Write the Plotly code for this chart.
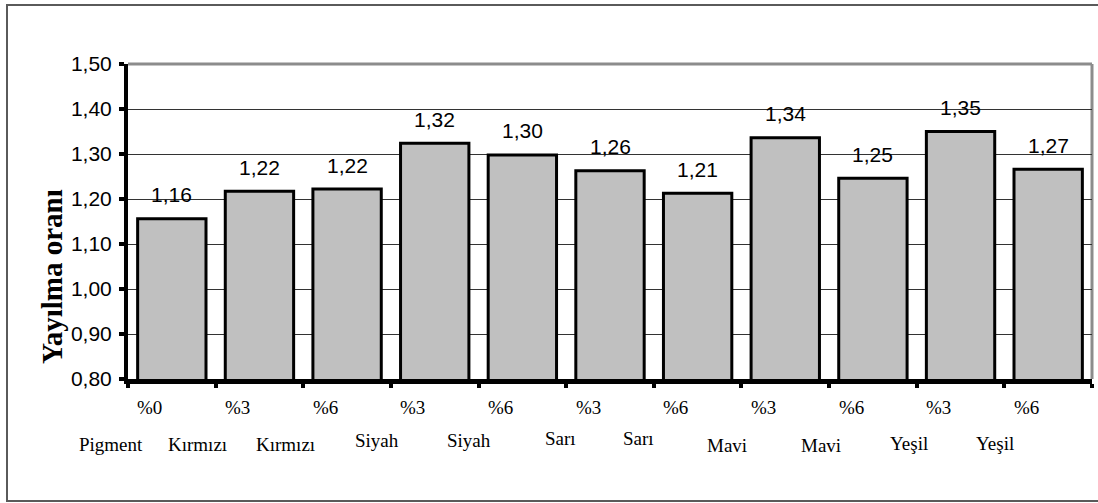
import plotly.graph_objects as go

# Spread ratio per pigment sample
ratios = [1.156, 1.217, 1.222, 1.324, 1.298, 1.263, 1.213, 1.336, 1.246, 1.350, 1.266]
percent_labels = ["%0", "%3", "%6", "%3", "%6", "%3", "%6", "%3", "%6", "%3", "%6"]
pigment_labels = ["Pigment", "Kırmızı", "Kırmızı", "Siyah", "Siyah", "Sarı", "Sarı",
                  "Mavi", "Mavi", "Yeşil", "Yeşil"]
y_ticks = [0.80, 0.90, 1.00, 1.10, 1.20, 1.30, 1.40, 1.50]
y_title = "Yayılma oranı"

W, H = 1098, 503
ML, MR, MT, MB = 128, 6, 64, 124
PW, PH = W - ML - MR, H - MT - MB

n = len(ratios)
idx = list(range(n))


def cat_to_paper(x):
    # category coordinate -> paper fraction (axis range is [-0.5, n-0.5])
    return (x + 0.5) / n


fig = go.Figure()
fig.add_trace(go.Bar(
    x=idx, y=ratios, width=0.78,
    marker=dict(color="#C0C0C0", line=dict(color="black", width=3)),
    hoverinfo="skip",
))

annotations = []
# value labels above the bars
for i, v in zip(idx, ratios):
    annotations.append(dict(
        x=i, y=v, xref="x", yref="y", xanchor="center", yanchor="middle", yshift=24,
        text=f"{v:.2f}".replace(".", ","), showarrow=False,
        font=dict(family="Liberation Sans, Arial", size=21, color="black"),
    ))

serif = dict(family="Liberation Serif, Times New Roman", size=19, color="black")

# concentration labels (first line under the axis)
for i, t in zip(idx, percent_labels):
    annotations.append(dict(
        x=cat_to_paper(i - 0.25), y=0, xref="paper", yref="paper",
        xanchor="center", yanchor="middle", yshift=-28,
        text=t, showarrow=False, font=serif,
    ))

# pigment names (second line), hand-placed text boxes
name_offsets = [-0.69, -0.71, -0.70, -0.66, -0.61, -0.56, -0.67, -0.66, -0.59, -0.59, -0.61]
name_shifts = [-65, -65, -65, -61, -61, -59, -59, -66, -66, -64, -64]
for i, t, dx, dy in zip(idx, pigment_labels, name_offsets, name_shifts):
    annotations.append(dict(
        x=cat_to_paper(i + dx), y=0, xref="paper", yref="paper",
        xanchor="center", yanchor="middle", yshift=dy,
        text=t, showarrow=False, font=serif,
    ))

# rotated axis title
annotations.append(dict(
    x=(52 - ML) / PW, y=(H - MB - 277) / PH, xref="paper", yref="paper",
    text=f"<b>{y_title}</b>", textangle=-90, showarrow=False,
    xanchor="center", yanchor="middle",
    font=dict(family="Liberation Serif, Times New Roman", size=29, color="black"),
))

shapes = [
    # plot-area frame (top and right edges)
    dict(type="line", xref="x domain", yref="y domain", x0=0, x1=1, y0=1, y1=1,
         line=dict(color="#8c8c8c", width=3), layer="below"),
    dict(type="line", xref="x domain", yref="y domain", x0=1, x1=1, y0=0, y1=1,
         line=dict(color="#8c8c8c", width=3), layer="below"),
    # chart border
    dict(type="rect", xref="paper", yref="paper",
         x0=(7 - ML) / PW, x1=(W + 10 - ML) / PW,
         y0=(H - MB - 501) / PH, y1=(H - MB - 5) / PH,
         line=dict(color="#5a5a5a", width=2), fillcolor="rgba(0,0,0,0)"),
]

fig.update_layout(
    width=W, height=H,
    margin=dict(l=ML, r=MR, t=MT, b=MB, pad=0),
    paper_bgcolor="white", plot_bgcolor="white",
    separators=",.",
    showlegend=False,
    annotations=annotations,
    shapes=shapes,
    xaxis=dict(
        range=[-0.5, n - 0.5],
        tickvals=[i - 0.5 for i in range(n + 1)],
        ticktext=[""] * (n + 1),
        ticks="outside", ticklen=4, tickwidth=4, tickcolor="black",
        showline=True, linecolor="black", linewidth=5,
        showgrid=False, zeroline=False, fixedrange=True,
    ),
    yaxis=dict(
        range=[0.80, 1.50],
        tickvals=y_ticks, tickformat=".2f",
        ticks="outside", ticklen=5, tickwidth=4, tickcolor="black",
        ticklabelstandoff=3,
        tickfont=dict(family="Liberation Sans, Arial", size=21, color="black"),
        showline=True, linecolor="black", linewidth=4,
        showgrid=True, gridcolor="#333333", gridwidth=1,
        zeroline=False, fixedrange=True,
    ),
)

fig.write_html("out.html")
